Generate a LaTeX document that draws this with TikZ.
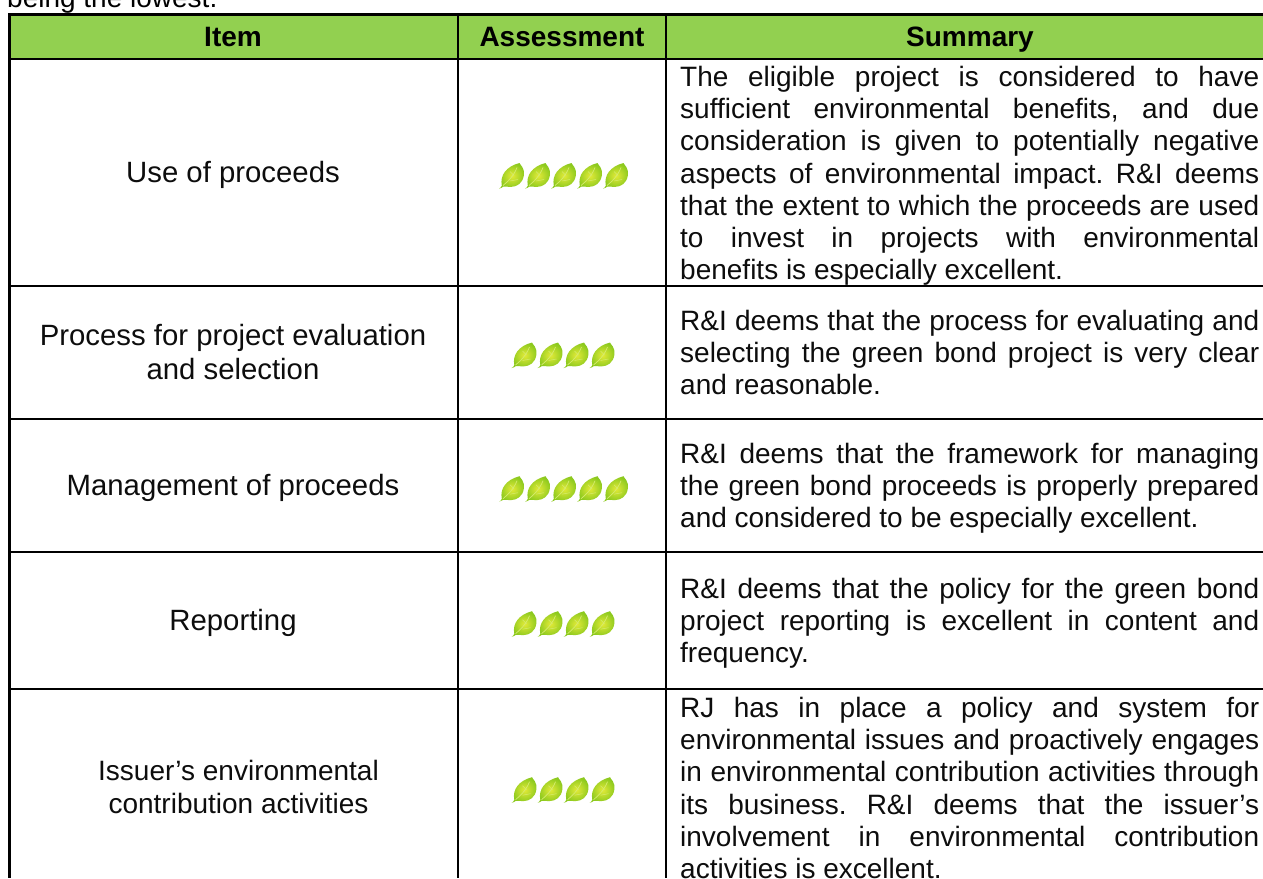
\documentclass[tikz,border=0pt]{standalone}
\usepackage{fontspec}
\setmainfont{Liberation Sans}
\frenchspacing
\definecolor{headgreen}{HTML}{92D050}
\definecolor{leafin}{HTML}{E2EA38}
\definecolor{leafout}{HTML}{8CC91E}
\definecolor{leafvein}{HTML}{D6EC70}
\tikzset{
  x=1pt,y=-1pt,
  gridline/.style={line width=2.2pt,black},
  cell/.style={inner sep=0pt,align=center,font=\fontsize{29.33}{33.3}\selectfont,text=black!95},
  onecell/.style={cell,anchor=base},
  lowcell/.style={inner sep=0pt,align=center,font=\fontsize{28}{33.3}\selectfont,text=black!95},
  headcell/.style={inner sep=0pt,anchor=base,font=\fontsize{28}{33}\selectfont\bfseries,text=black},
  summary/.style={inner sep=0pt,anchor=north west,text width=579pt,align=justify,font=\fontsize{28}{32.25}\selectfont,text=black!95},
  leaf/.pic={
    \shade[inner color=leafin,outer color=leafout]
      (0,0) .. controls (1.2,-0.4) and (2.4,-1.2) .. (2.8,-3)
      .. controls (0.8,-13) and (7,-22) .. (20.5,-25.5)
      .. controls (21,-23.5) and (26,-21) .. (24.8,-13)
      .. controls (23.8,-5.5) and (18,-1.6) .. (12,-1.6)
      .. controls (8,-1.6) and (5.5,-2.4) .. (4.2,-1.8)
      .. controls (3,-0.8) and (1.5,-0.1) .. (0,0) -- cycle;
    \draw[leafvein,line width=0.7pt] (4,-3) .. controls (9,-7) and (15,-13) .. (18,-21);
    \draw[leafvein,line width=0.5pt] (11,-7.5) -- (19,-9) (15,-13) -- (11,-17);
  }
}
\newcommand{\leaves}[4]{% name, x, y, count
  \foreach \i in {1,...,#4}{
    \pic (#1\i) at ({#2+(\i-1)*26},#3) {leaf};
  }
}
\begin{document}
\begin{tikzpicture}
\useasboundingbox (0,0) rectangle (1263,878);
\clip (0,0) rectangle (1263,878);
\fill[white] (0,0) rectangle (1263,878);
\fill[headgreen] (9.5,14.5) rectangle (1263,59);
% grid
\draw[gridline] (1263,14.5) -- (9.5,14.5) -- (9.5,878);
\draw[gridline] (9.5,59) -- (1263,59);
\draw[gridline] (9.5,286) -- (1263,286);
\draw[gridline] (9.5,419) -- (1263,419);
\draw[gridline] (9.5,552) -- (1263,552);
\draw[gridline] (9.5,688.7) -- (1263,688.7);
\draw[gridline] (458,14.5) -- (458,878);
\draw[gridline] (666,14.5) -- (666,878);
% text above table
\node[inner sep=0pt,anchor=base west,font=\fontsize{28}{33}\selectfont] (intro) at (7,7.5) {being the lowest.};
% header
\node[headcell] (hitem) at (233,46) {Item};
\node[headcell] (hassess) at (562,46) {Assessment};
\node[headcell] (hsum) at (970,46) {Summary};
% first column
\node[onecell] (c1) at (233,182.5) {Use of proceeds};
\node[cell] (c2) at (233,352) {Process for project evaluation\\and selection};
\node[onecell] (c3) at (233,495.5) {Management of proceeds};
\node[onecell] (c4) at (233,630.5) {Reporting};
\node[lowcell] (c5) at (238.5,787) {Issuer’s environmental\\contribution activities};
% summaries
\node[summary] (s1) at (680,66) {The eligible project is considered to have\linebreak
sufficient environmental benefits, and due\linebreak
consideration is given to potentially negative\linebreak
aspects of environmental impact. R\&I deems\linebreak
that the extent to which the proceeds are used\linebreak
to invest in projects with environmental\linebreak
benefits is especially excellent.};
\node[summary] (s2) at (680,310) {R\&I deems that the process for evaluating and\linebreak
selecting the green bond project is very clear\linebreak
and reasonable.};
\node[summary] (s3) at (680,443) {R\&I deems that the framework for managing\linebreak
the green bond proceeds is properly prepared\linebreak
and considered to be especially excellent.};
\node[summary] (s4) at (680,578) {R\&I deems that the policy for the green bond\linebreak
project reporting is excellent in content and\linebreak
frequency.};
\node[summary] (s5) at (680,697) {RJ has in place a policy and system for\linebreak
environmental issues and proactively engages\linebreak
in environmental contribution activities through\linebreak
its business. R\&I deems that the issuer’s\linebreak
involvement in environmental contribution\linebreak
activities is excellent.};
% leaves
\leaves{la}{499}{188.5}{5}
\leaves{lb}{511.5}{368}{4}
\leaves{lc}{499}{501.7}{5}
\leaves{ld}{511.5}{636.7}{4}
\leaves{le}{511.5}{802.7}{4}
\end{tikzpicture}
\end{document}
